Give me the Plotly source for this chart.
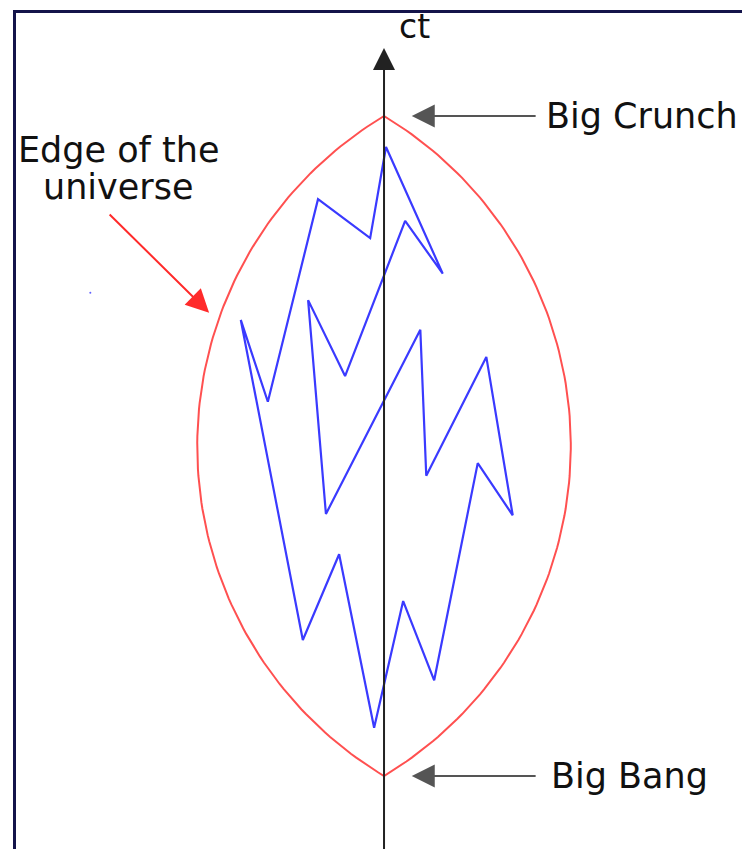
import numpy as np
import plotly.graph_objects as go

# ---- data (units: spatial x and ct, Big Bang at ct=0, Big Crunch at ct=10) ----
path_x = [-2.17, -1.76, -1.00, -0.21, 0.03, 0.89, 0.32, -0.59, -1.15, -0.88,
          0.55, 0.64, 1.55, 1.95, 1.42, 0.76, 0.29, -0.15, -0.68, -1.23, -2.17]
path_ct = [6.91, 5.67, 8.74, 8.15, 9.53, 7.61, 8.41, 6.06, 7.21, 3.97,
           6.76, 4.55, 6.35, 3.95, 4.74, 1.45, 2.65, 0.73, 3.36, 2.06, 6.91]

big_bang_ct = 0.0
big_crunch_ct = 10.0
edge_half_width = 2.83          # widest extent of the universe
stray_x = [-4.45]
stray_ct = [7.32]

label_axis = "ct"
label_crunch = "Big Crunch"
label_bang = "Big Bang"
label_edge = ["Edge of the", "universe"]

# ---- lens-shaped edge: two circular arcs through Big Bang and Big Crunch ----
half_h = (big_crunch_ct - big_bang_ct) / 2
mid_ct = (big_crunch_ct + big_bang_ct) / 2
R = (half_h ** 2 + edge_half_width ** 2) / (2 * edge_half_width)
xc = edge_half_width - R
theta_max = np.arctan2(half_h, -xc)
th = np.linspace(theta_max, -theta_max, 120)
rx = xc + R * np.cos(th)
ry = mid_ct + R * np.sin(th)
lens_x = np.concatenate([rx, -rx[::-1]])
lens_y = np.concatenate([ry, ry[::-1]])

FONT = "DejaVu Sans"
TXT = "#111111"
fig = go.Figure()

fig.add_trace(go.Scatter(x=lens_x, y=lens_y, mode="lines",
                         line=dict(color="#ff5050", width=2), hoverinfo="skip"))
fig.add_trace(go.Scatter(x=path_x, y=path_ct, mode="lines",
                         line=dict(color="#3a3aff", width=2.2), hoverinfo="skip"))
fig.add_trace(go.Scatter(x=stray_x, y=stray_ct, mode="markers",
                         marker=dict(color="#6060ff", size=2), hoverinfo="skip"))

ann = []
# ct axis with arrow
ann.append(dict(x=0, y=11.03, ax=0, ay=-1.3, xref="x", yref="y", axref="x", ayref="y",
                showarrow=True, arrowhead=2, arrowsize=2.2, arrowwidth=2,
                arrowcolor="#222222", text=""))
ann.append(dict(x=0.19, y=11.35, xref="x", yref="y", text=label_axis, showarrow=False,
                xanchor="left", yanchor="middle",
                font=dict(family=FONT, size=33, color=TXT)))
# Big Crunch
ann.append(dict(x=0.42, y=big_crunch_ct, ax=2.32, ay=big_crunch_ct, xref="x", yref="y",
                axref="x", ayref="y", showarrow=True, arrowhead=2, arrowsize=2.3,
                arrowwidth=2, arrowcolor="#555555", text=""))
ann.append(dict(x=2.43, y=big_crunch_ct, xref="x", yref="y", text=label_crunch,
                showarrow=False, xanchor="left", yanchor="middle",
                font=dict(family=FONT, size=35, color=TXT)))
# Big Bang
ann.append(dict(x=0.42, y=big_bang_ct, ax=2.32, ay=big_bang_ct, xref="x", yref="y",
                axref="x", ayref="y", showarrow=True, arrowhead=2, arrowsize=2.3,
                arrowwidth=2, arrowcolor="#555555", text=""))
ann.append(dict(x=2.5, y=big_bang_ct, xref="x", yref="y", text=label_bang,
                showarrow=False, xanchor="left", yanchor="middle",
                font=dict(family=FONT, size=35, color=TXT)))
# Edge of the universe
ann.append(dict(x=-2.65, y=7.02, ax=-4.18, ay=8.53, xref="x", yref="y",
                axref="x", ayref="y", showarrow=True, arrowhead=2, arrowsize=2.3,
                arrowwidth=2, arrowcolor="#ff2a2a", text=""))
ann.append(dict(x=-4.01, y=9.48, xref="x", yref="y", text=label_edge[0],
                showarrow=False, xanchor="center", yanchor="middle",
                font=dict(family=FONT, size=35, color=TXT)))
ann.append(dict(x=-4.02, y=8.93, xref="x", yref="y", text=label_edge[1],
                showarrow=False, xanchor="center", yanchor="middle",
                font=dict(family=FONT, size=35, color=TXT)))

# page body has an 8px margin: figure placed at (8,8) in the window
W, H, OFF = 742, 841, 8
fig.update_layout(
    width=W, height=H,
    margin=dict(l=0, r=0, t=0, b=0),
    paper_bgcolor="white", plot_bgcolor="white",
    showlegend=False,
    xaxis=dict(range=[-5.697, 5.545], visible=False, fixedrange=True),
    yaxis=dict(range=[-1.106, 11.636], visible=False, fixedrange=True),
    annotations=ann,
    shapes=[dict(type="rect", xref="paper", yref="paper",
                 x0=(14.5 - OFF) / W, x1=(744 - OFF) / W, y0=-0.05,
                 y1=1 - (11.5 - OFF) / H,
                 line=dict(color="#14144a", width=3), fillcolor="rgba(0,0,0,0)")],
)

fig.write_html("out.html")
